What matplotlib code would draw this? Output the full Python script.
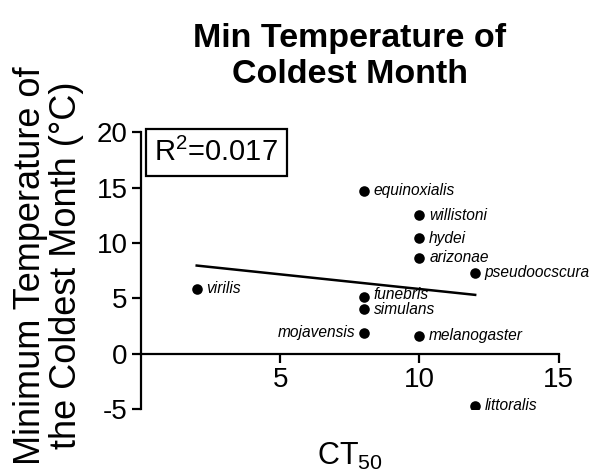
import numpy as np
import matplotlib
matplotlib.use("Agg")
import matplotlib.pyplot as plt

plt.rcParams['font.family'] = ['Liberation Sans', 'DejaVu Sans']
plt.rcParams['mathtext.fontset'] = 'custom'
plt.rcParams['mathtext.rm'] = 'Liberation Sans'
plt.rcParams['mathtext.it'] = 'Liberation Sans:italic'
plt.rcParams['axes.unicode_minus'] = False

species = ["equinoxialis", "willistoni", "hydei", "arizonae", "pseudoocscura",
           "virilis", "funebris", "simulans", "mojavensis", "melanogaster", "littoralis"]
ct50 = [8, 10, 10, 10, 12, 2, 8, 8, 8, 10, 12]
min_temp = [14.7, 12.5, 10.45, 8.65, 7.33, 5.9, 5.14, 4.03, 1.93, 1.62, -4.68]
r2_text = "0.017"
x_ticks = [5, 10, 15]
y_ticks = [-5, 0, 5, 10, 15, 20]

fig = plt.figure(figsize=(5.95, 4.75), dpi=100)
ax = fig.add_axes([0.237, 0.138, 0.702, 0.584])

x = np.array(ct50, dtype=float)
y = np.array(min_temp, dtype=float)
ax.scatter(x, y, s=58, color='black', zorder=3, linewidths=0)

slope, intercept = np.polyfit(x, y, 1)
xf = np.array([x.min(), x.max()])
ax.plot(xf, slope * xf + intercept, color='black', lw=1.8)

for name, xi, yi in zip(species, x, y):
    if name == "mojavensis":
        ax.annotate(name, (xi, yi), xytext=(-6, 0), textcoords='offset points',
                    ha='right', va='center', fontsize=11.2, style='italic')
    else:
        dy = 0
        if name == "funebris":
            dy = 1.5
        elif name == "simulans":
            dy = -0.5
        ax.annotate(name, (xi, yi), xytext=(7, dy), textcoords='offset points',
                    ha='left', va='center', fontsize=11.2, style='italic')

ax.set_xlim(0, 15)
ax.set_ylim(-5, 20)
ax.set_xticks(x_ticks)
ax.set_yticks(y_ticks)
ax.spines['top'].set_visible(False)
ax.spines['right'].set_visible(False)
ax.spines['bottom'].set_position(('data', 0))
for s in ['left', 'bottom']:
    ax.spines[s].set_linewidth(1.6)
ax.tick_params(direction='out', length=6.5, width=1.6, labelsize=20, pad=3)

ax.set_ylabel("Minimum Temperature of\nthe Coldest Month (°C)", fontsize=26, linespacing=1.05)
ax.yaxis.set_label_coords(-0.136, 0.52)
ax.set_xlabel(r"$\mathregular{CT_{50}}$", fontsize=22)
ax.xaxis.set_label_coords(0.5, -0.115)

ax.text(0.032, 0.98, r"R$^2$=" + r2_text, transform=ax.transAxes, fontsize=21,
        ha='left', va='top',
        bbox=dict(boxstyle='square,pad=0.3', fc='white', ec='black', lw=1.6))

fig.text(0.588, 1 - 83 / 475, "Min Temperature of\nColdest Month", ha='center',
         va='baseline', fontsize=24.5, fontweight='bold', linespacing=1.2)

fig.savefig("out.png", dpi=100)
